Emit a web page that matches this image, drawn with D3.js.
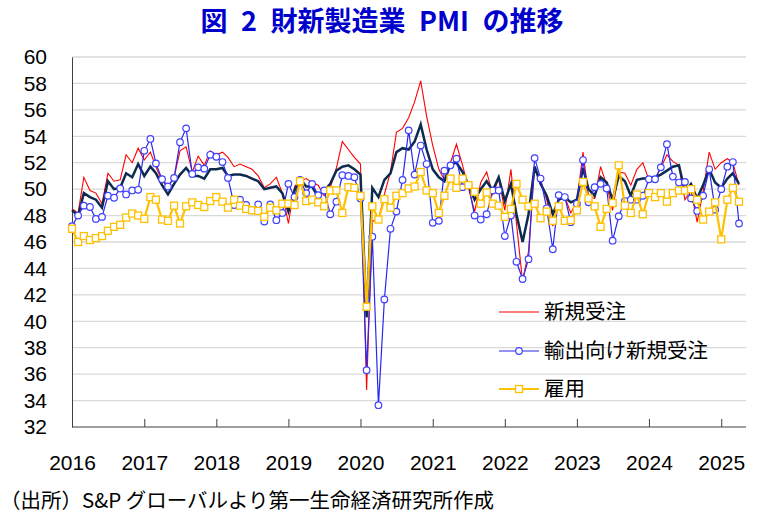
<!DOCTYPE html>
<html><head><meta charset="utf-8">
<script src="https://cdn.jsdelivr.net/npm/d3@7"></script>
<style>body{margin:0;background:#fff} svg{display:block}</style>
</head><body>
<svg id="c" width="761" height="519"></svg>
<script>
// ---- data (monthly, Jan 2016 - Apr 2025) ----
const startYear = 2016;
const yearLabels = [2016,2017,2018,2019,2020,2021,2022,2023,2024,2025];
const yTickValues = [32,34,36,38,40,42,44,46,48,50,52,54,56,58,60];
const seriesNames = ["新規受注","輸出向け新規受注","雇用"];

const pmi = [
 48.4,48.0,49.7,49.4,49.2,48.6,50.6,50.0,50.1,51.2,50.9,51.9,
 51.0,51.7,51.2,50.3,49.6,50.4,51.1,51.6,51.0,51.0,50.8,51.5,
 51.5,51.6,51.0,51.1,51.1,51.0,50.8,50.6,50.0,50.1,50.2,49.7,
 48.3,49.9,50.8,50.2,50.2,49.4,49.9,50.4,51.4,51.7,51.8,51.5,
 51.1,40.3,50.1,49.4,50.7,51.2,52.8,53.1,53.0,53.6,54.9,53.0,
 51.5,50.9,50.6,51.9,52.0,51.3,50.3,49.2,50.0,50.6,49.9,50.9,
 49.1,50.4,48.1,46.0,48.1,51.7,50.4,49.5,48.1,49.2,49.4,49.0,
 49.2,51.6,50.0,49.5,50.9,50.5,49.2,51.0,50.6,49.5,50.7,50.8,
 50.8,50.9,51.1,51.4,51.7,51.8,49.8,50.4,49.3,50.3,51.5,50.5,
 50.1,50.8,51.2,50.4];

const newOrders = [
 48.5,48.2,50.9,49.9,49.7,48.9,51.2,50.6,50.7,52.6,52.0,53.1,
 52.2,52.8,51.7,50.6,50.2,50.9,52.9,53.2,51.3,52.5,51.8,52.9,
 52.6,52.8,52.4,51.7,51.9,51.7,51.5,51.0,50.1,50.4,50.9,49.7,
 47.4,50.2,50.6,50.8,50.5,50.3,49.5,50.1,51.6,53.6,53.0,52.4,
 51.9,34.8,47.6,47.6,49.6,51.3,54.3,54.6,55.4,56.6,58.2,55.5,
 53.3,51.5,50.7,52.0,53.4,51.8,50.1,48.3,50.5,51.3,49.6,50.8,
 48.4,51.5,47.4,43.0,45.3,51.7,50.7,49.2,47.2,49.4,49.4,48.2,
 49.05,52.8,49.5,49.3,51.7,50.3,48.4,51.3,51.2,50.3,51.5,52.0,
 50.7,50.8,51.6,52.6,52.1,51.8,49.2,49.9,47.5,49.8,52.8,51.5,
 52.0,52.3,52.0,50.3];

const exportOrders = [
 47.2,48.0,48.75,48.65,47.75,47.9,49.5,49.35,50.05,49.6,49.9,49.95,
 52.9,53.8,51.95,50.75,50.2,50.85,53.55,54.6,51.15,51.65,51.55,52.6,
 52.45,52.05,50.85,48.8,49.2,48.8,48.4,48.85,47.55,48.85,47.65,48.2,
 50.4,49.4,50.7,49.7,50.4,49.55,49.9,48.1,49.05,51.05,51.0,50.9,
 49.3,36.3,46.4,33.65,41.65,47.0,48.3,50.7,54.45,51.1,53.3,51.9,
 47.45,47.6,51.4,51.8,52.3,50.15,50.3,48.0,47.7,48.1,49.9,49.9,
 46.45,48.0,44.5,43.2,44.7,52.35,50.8,48.55,45.45,49.55,49.4,47.5,
 48.9,52.2,49.0,50.15,50.4,50.05,46.1,47.95,49.1,49.2,49.2,49.5,
 50.75,50.75,51.65,53.4,50.95,50.5,50.55,49.3,48.35,49.5,51.5,48.45,
 50.0,51.7,52.05,47.4];

const employment = [
 47.0,46.0,46.45,46.15,46.3,46.45,46.85,47.15,47.3,47.85,48.15,48.0,
 47.75,49.4,49.2,47.7,47.6,48.75,47.4,48.7,49.0,48.8,48.65,49.1,
 49.4,49.05,48.6,49.2,48.75,48.5,48.4,48.35,47.9,48.6,48.4,48.9,
 48.9,48.8,50.6,49.1,49.2,49.0,48.7,49.9,49.9,48.2,50.15,50.1,
 49.5,41.1,48.7,47.7,49.25,48.6,49.5,49.7,50.05,50.2,51.3,49.9,
 49.7,48.2,49.5,50.8,50.1,50.8,50.3,49.8,48.9,49.75,48.9,48.75,
 47.9,48.5,50.4,49.2,48.7,48.9,47.8,48.3,47.6,48.7,47.6,47.65,
 48.4,50.55,49.3,48.7,47.15,48.5,48.95,51.8,48.75,48.2,49.6,48.1,
 49.7,49.4,49.7,49.05,49.7,49.9,49.9,50.0,49.2,47.7,48.3,49.0,
 46.2,49.2,50.1,49.05];

// ---- chart ----
const svg = d3.select("#c");
const n = pmi.length;
const dates = d3.range(n).map(i => new Date(startYear, i, 1));
const L = 72, R = 746, T = 57, B = 427;
const x = d3.scaleTime().domain([dates[0], dates[n-1]]).range([L, 739]);
const y = d3.scaleLinear().domain([32, 60]).range([B, T]);

const numFont = "'Liberation Sans', Arial, sans-serif";
const jpFont = "'Noto Sans CJK JP', sans-serif";

// title
svg.append("text").attr("x", 382).attr("y", 31).attr("text-anchor", "middle")
  .attr("font-family", jpFont).attr("font-weight", "bold").attr("font-size", 27)
  .attr("fill", "#0000CC").text("図\u20022\u2002財新製造業\u2002PMI\u2002の推移");

// gridlines
svg.append("g").selectAll("line").data(yTickValues.filter(v => v > 32)).join("line")
  .attr("x1", L).attr("x2", R).attr("y1", d => y(d)).attr("y2", d => y(d))
  .attr("stroke", "#d9d9d9").attr("stroke-width", 1.3);

// y axis
const yAxis = svg.append("g").attr("transform", `translate(${L},0)`)
  .call(d3.axisLeft(y).tickValues(yTickValues).tickSize(0).tickPadding(25).tickFormat(d3.format("d")));
yAxis.select(".domain").attr("stroke", "#404040");
yAxis.selectAll("text").attr("font-family", numFont).attr("font-size", 21).attr("fill", "#000");

// x axis
const tickDates = yearLabels.map(yr => new Date(yr, 0, 1));
const xAxis = svg.append("g").attr("transform", `translate(0,${B})`)
  .call(d3.axisBottom(x).tickValues(tickDates).tickSize(-8).tickPadding(28).tickFormat(d3.timeFormat("%Y")));
xAxis.select(".domain").remove();
xAxis.selectAll(".tick line").attr("stroke", "#404040");
xAxis.selectAll("text").attr("font-family", numFont).attr("font-size", 21).attr("fill", "#000");
svg.append("line").attr("x1", L).attr("x2", R).attr("y1", B).attr("y2", B)
  .attr("stroke", "#404040").attr("stroke-width", 1);

// lines
const line = arr => d3.line().x((d, i) => x(dates[i])).y(d => y(d))(arr);
svg.append("path").attr("d", line(newOrders)).attr("fill", "none")
  .attr("stroke", "#FF0000").attr("stroke-width", 1.1);
svg.append("path").attr("d", line(pmi)).attr("fill", "none")
  .attr("stroke", "#0E2A50").attr("stroke-width", 2.5);
svg.append("path").attr("d", line(exportOrders)).attr("fill", "none")
  .attr("stroke", "#2828F0").attr("stroke-width", 1.2);
svg.append("g").selectAll("circle").data(exportOrders).join("circle")
  .attr("cx", (d, i) => x(dates[i])).attr("cy", d => y(d)).attr("r", 3.3)
  .attr("fill", "#fff").attr("stroke", "#4040FF").attr("stroke-width", 1.2);
svg.append("path").attr("d", line(employment)).attr("fill", "none")
  .attr("stroke", "#FFC000").attr("stroke-width", 2.2);
svg.append("g").selectAll("rect").data(employment).join("rect")
  .attr("x", (d, i) => x(dates[i]) - 3.5).attr("y", d => y(d) - 3.5)
  .attr("width", 7).attr("height", 7)
  .attr("fill", "#fff").attr("stroke", "#FFC000").attr("stroke-width", 1.3);

// legend
const lg = svg.append("g");
const legY = [312, 351, 389];
const legColors = ["#FF0000", "#2828F0", "#FFC000"];
seriesNames.forEach((name, k) => {
  lg.append("line").attr("x1", 499).attr("x2", 539).attr("y1", legY[k]).attr("y2", legY[k])
    .attr("stroke", legColors[k]).attr("stroke-width", k === 2 ? 2.2 : 1.2);
  if (k === 1) lg.append("circle").attr("cx", 519).attr("cy", legY[k]).attr("r", 3.3)
    .attr("fill", "#fff").attr("stroke", "#4040FF").attr("stroke-width", 1.2);
  if (k === 2) lg.append("rect").attr("x", 515.5).attr("y", legY[k] - 3.5).attr("width", 7).attr("height", 7)
    .attr("fill", "#fff").attr("stroke", "#FFC000").attr("stroke-width", 1.3);
  lg.append("text").attr("x", 544).attr("y", legY[k]).attr("dy", "0.35em")
    .attr("font-family", jpFont).attr("font-size", 20.5).attr("fill", "#000").text(name);
});

// source
svg.append("text").attr("x", 0).attr("y", 508).attr("font-family", jpFont)
  .attr("font-size", 20.5).attr("fill", "#000").text("（出所）S&P グローバルより第一生命経済研究所作成");
</script>
</body></html>
